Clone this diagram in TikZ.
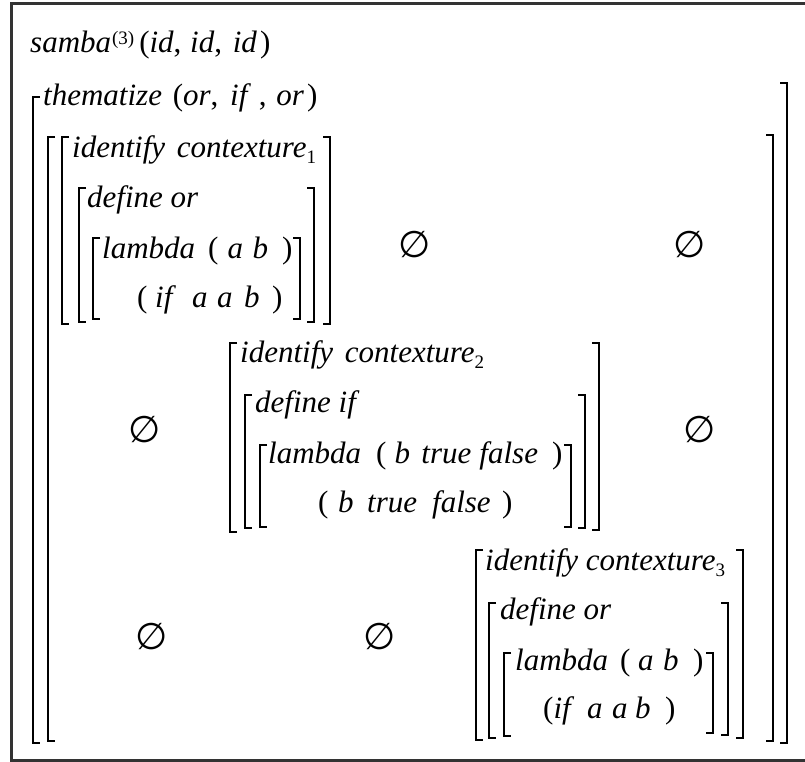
\documentclass[tikz,border=0pt]{standalone}
\usepackage{fontspec}
\setmainfont{Liberation Serif}
\newfontfamily\symfont{DejaVu Sans}
\newcommand\brL[3]{\draw[brk] (#1+7,#2) -- (#1,#2) -- (#1,#3) -- (#1+7,#3);}
\newcommand\brR[3]{\draw[brk] (#1-7,#2) -- (#1,#2) -- (#1,#3) -- (#1-7,#3);}
\newcommand\g[1]{\hspace{#1pt}}
\newcommand\sbs[1]{\raisebox{-6pt}{\fontsize{19}{19}\selectfont #1}}
\newcommand\sps[1]{\raisebox{8pt}{\fontsize{19}{19}\selectfont #1}}
\newcommand\es{{\symfont\fontsize{37}{37}\selectfont ∅}}
\begin{document}
\begin{tikzpicture}[x=1pt,y=-1pt,
  brk/.style={line width=2.2pt,line cap=butt,line join=miter},
  txt/.style={anchor=base west,inner sep=0pt,font=\fontsize{31}{37}\selectfont},
  emp/.style={inner sep=0pt}]
\useasboundingbox (0,0) rectangle (805,761);
\draw[line width=3pt,color=black!80] (11,3) rectangle (812,760);
% line 1 and thematize
\node[txt] (t1) at (30,52) {\textit{samba}\g{1}\sps{(3)}\g{5}(\textit{id},\g{1} \textit{id},\g{3} \textit{id}\g{3})};
\node[txt] (t2) at (43,105) {\textit{thematize}\g{3} (\textit{or},\g{4} \textit{if}\g{8},\g{2} \textit{or}\g{3})};
\brL{33}{97}{743}
\brR{787}{83}{743}
\brL{48}{137}{741}
\brR{773}{135}{741}
% contexture 1
\node[txt] (c1a) at (72,157) {\textit{identify}\g{4} \textit{contexture}\sbs{1}};
\node[txt] (c1b) at (87,207) {\textit{define or}};
\node[txt] (c1c) at (102,258) {\textit{lambda}\g{13}(\g{9}\textit{a}\g{9.5}\textit{b}\g{14})};
\node[txt] (c1d) at (137,307) {(\g{7.7}\textit{if}\g{16}\textit{a}\g{9.5}\textit{a}\g{11.5}\textit{b}\g{12.5})};
\brL{62}{137}{324}\brR{330}{137}{324}
\brL{79}{188}{322}\brR{314}{188}{322}
\brL{93}{238}{319}\brR{300}{238}{319}
\node[emp] (e12) at (415,245) {\es};
\node[emp] (e13) at (690,245) {\es};
% row 2
\node[emp] (e21) at (145,430) {\es};
\node[txt] (c2a) at (240,362) {\textit{identify}\g{4} \textit{contexture}\sbs{2}};
\node[txt] (c2b) at (255,412) {\textit{define if}};
\node[txt] (c2c) at (268,463) {\textit{lambda}\g{15}(\g{8}\textit{b}\g{11.5}\textit{true}\g{8}\textit{false}\g{14})};
\node[txt] (c2d) at (318,512) {(\g{9.7}\textit{b}\g{13.5}\textit{true}\g{15}\textit{false}\g{11.4})};
\brL{230}{343}{532}\brR{599}{343}{530}
\brL{245}{395}{528}\brR{585}{395}{528}
\brL{260}{445}{527}\brR{571}{445}{527}
\node[emp] (e23) at (700,430) {\es};
% row 3
\node[emp] (e31) at (152,637) {\es};
\node[emp] (e32) at (380,637) {\es};
\node[txt] (c3a) at (485,570) {\textit{identify contexture}\sbs{3}};
\node[txt] (c3b) at (500,619) {\textit{define or}};
\node[txt] (c3c) at (515,670) {\textit{lambda}\g{12}(\g{7.7}\textit{a}\g{9.5}\textit{b}\g{14.5})};
\node[txt] (c3d) at (543,718) {(\textit{if}\g{12.8}\textit{a}\g{9.5}\textit{a}\g{7.5}\textit{b}\g{14.5})};
\brL{476}{550}{740}\brR{743}{550}{738}
\brL{489}{603}{738}\brR{728}{603}{735}
\brL{504}{653}{736}\brR{713}{653}{733}
\end{tikzpicture}
\end{document}
